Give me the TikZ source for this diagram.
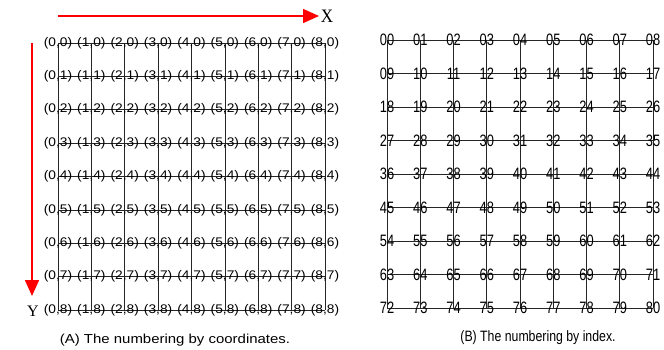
\documentclass[tikz,border=0pt]{standalone}
\usepackage{graphicx}
\usepackage{fontspec}
\setmainfont{Liberation Sans}
\newfontfamily\seriffont{Liberation Serif}
\usetikzlibrary{arrows.meta}
\begin{document}
\begin{tikzpicture}[x=1pt,y=-1pt,
  gridline/.style={line width=0.75pt, black!85},
  lbla/.style={inner sep=0pt, font=\fontsize{12.5}{14}\selectfont},
  lblb/.style={inner sep=0pt, font=\fontsize{16.5}{18}\selectfont},
  axisarrow/.style={red, line width=1.5pt, -{Triangle[length=16pt,width=14pt]}},
  axislabel/.style={inner sep=0pt, font=\seriffont},
  caption/.style={anchor=base, inner sep=0pt}]
\useasboundingbox (0,0) rectangle (664,349);
% grid points
\foreach \i in {0,...,8} {
  \foreach \j in {0,...,8} {
    \coordinate (L-\i-\j) at ({58+33.375*\i},{43+33.375*\j});
    \coordinate (R-\i-\j) at ({387+33.25*\i},{40+33.5*\j});
  }
}
% grid lines
\foreach \k in {0,...,8} {
  \draw[gridline] (L-0-\k) -- (L-8-\k);
  \draw[gridline] (L-\k-0) -- (L-\k-8);
  \draw[gridline] (R-0-\k) -- (R-8-\k);
  \draw[gridline] (R-\k-0) -- (R-\k-8);
}
% labels
\foreach \i in {0,...,8} {
  \foreach \j in {0,...,8} {
    \node[lbla] (la-\i-\j) at (L-\i-\j) {\scalebox{1.1}[1]{(\i,\j)}};
    \pgfmathtruncatemacro\idx{9*\j+\i}
    \node[lblb] (lb-\i-\j) at (R-\i-\j) {\scalebox{0.78}[1]{\ifnum\idx<10 0\fi\idx}};
  }
}
% axes
\coordinate (xs) at (58,16);
\coordinate (xe) at (319,16);
\draw[axisarrow] (xs) -- (xe);
\node[axislabel, font=\seriffont\fontsize{19}{21}\selectfont] (xl) at (327,16) {\scalebox{0.9}[1]{X}};
\coordinate (ys) at (32,43);
\coordinate (ye) at (32,296);
\draw[axisarrow] (ys) -- (ye);
\node[axislabel, font=\seriffont\fontsize{16}{18}\selectfont] (yl) at (33,311) {Y};
% captions
\node[caption, font=\fontsize{13}{15}\selectfont] (capA) at (175,343) {\scalebox{1.15}[1]{(A) The numbering by coordinates.}};
\node[caption, font=\fontsize{15}{17}\selectfont] (capB) at (538,341) {\scalebox{0.82}[1]{(B) The numbering by index.}};
\end{tikzpicture}
\end{document}
